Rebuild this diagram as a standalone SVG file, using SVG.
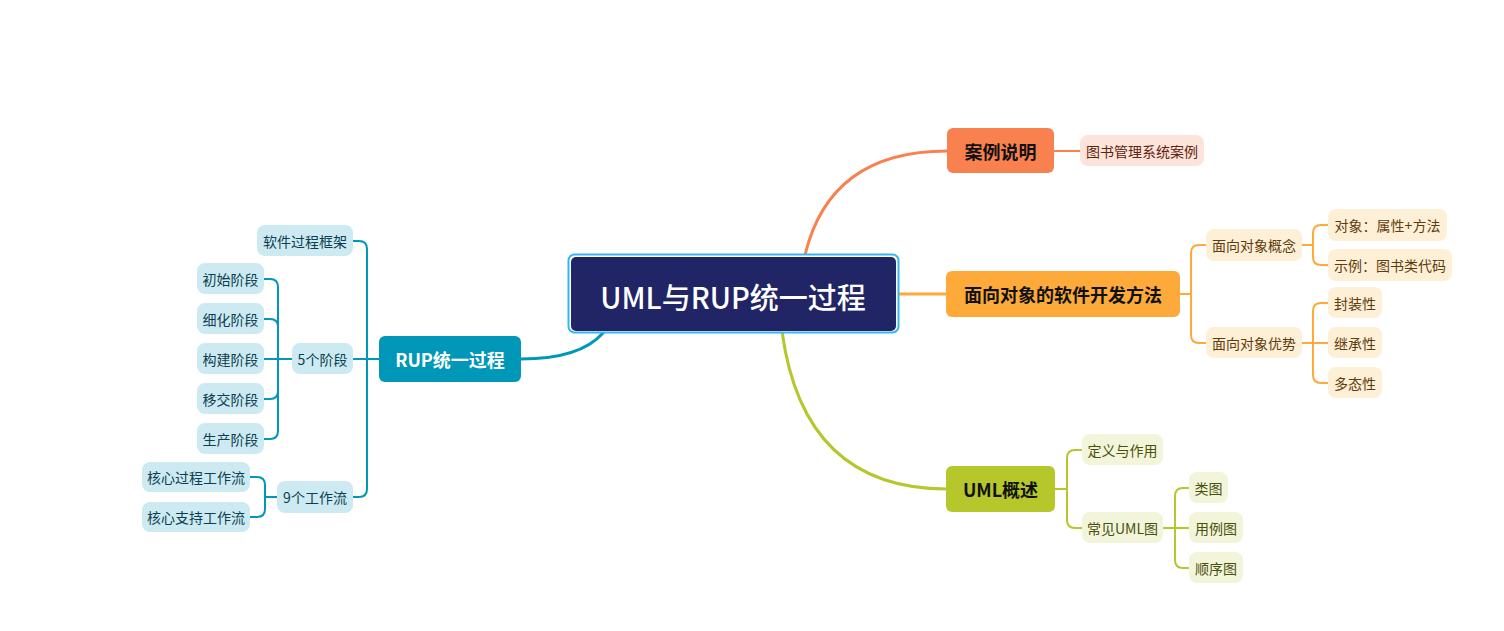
<svg xmlns="http://www.w3.org/2000/svg" width="1504" height="631" viewBox="0 0 1504 631">
<style>
text{font-family:"Noto Sans CJK SC","Noto Sans",sans-serif;text-anchor:middle;dominant-baseline:central}
.main{font-size:18px;font-weight:bold;fill:#111}
.sub{font-size:14px}
.c1 rect{fill:#FDE4DA}.c1 text{fill:#5E2410}
.c2 rect{fill:#FEEFD7}.c2 text{fill:#5E3C0C}
.c3 rect{fill:#F2F5D9}.c3 text{fill:#4A500E}
.c4 rect{fill:#CDEAF2}.c4 text{fill:#0C4050}
.l1{stroke:#F9804F}.l2{stroke:#FDAA3A}.l3{stroke:#B5C72A}.l4{stroke:#0097B8}
#connectors path{fill:none;stroke-width:2;stroke-linecap:round}
#connectors .big{stroke-width:3}
</style>
<rect width="1504" height="631" fill="#ffffff"/>
<g id="connectors">
<path class="big l1" d="M805 255 Q830 151 947 151"/>
<path class="big l2" d="M898 294 H947"/>
<path class="big l3" d="M782 331 Q803 489 947 489"/>
<path class="big l4" d="M603 333 Q580 359 521 359"/>
<path class="l1" d="M1054 151 H1080"/>
<path class="l2" d="M1180 294 H1191 M1206 245 H1199 Q1191 245 1191 253 V335 Q1191 343 1199 343 H1206"/>
<path class="l2" d="M1302 245 H1313 M1328 225 H1321 Q1313 225 1313 233 V257 Q1313 265 1321 265 H1328"/>
<path class="l2" d="M1302 343 H1328 M1328 303 H1321 Q1313 303 1313 311 V375 Q1313 383 1321 383 H1328"/>
<path class="l3" d="M1055 489 H1067 M1082 450 H1075 Q1067 450 1067 458 V520 Q1067 528 1075 528 H1082"/>
<path class="l3" d="M1163 528 H1189 M1189 488 H1183 Q1175 488 1175 496 V560 Q1175 568 1183 568 H1189"/>
<path class="l4" d="M379 359 H353 M353 241 H359 Q367 241 367 249 V489 Q367 497 359 497 H353"/>
<path class="l4" d="M292 359 H264 M264 279 H270 Q278 279 278 287 V431 Q278 439 270 439 H264 M264 319 H270 Q278 319 278 327 M264 399 H270 Q278 399 278 391"/>
<path class="l4" d="M277 497 H265 M250 477 H257 Q265 477 265 485 V509 Q265 517 257 517 H250"/>
</g>
<g id="root">
<rect x="568.5" y="254.5" width="330" height="78" rx="6" fill="#ffffff" stroke="#35B7EE" stroke-width="2"/>
<rect x="571" y="257" width="325" height="74" rx="5" fill="#212566"/>
<text x="733" y="296" font-size="29" fill="#ffffff" font-weight="500">UML与RUP统一过程</text>
</g>
<g id="n-case">
<rect x="947" y="128" width="107" height="45" rx="6" fill="#F9804F"/>
<text class="main" x="1000.5" y="151">案例说明</text>
</g>
<g id="n-case-1" class="c1"><rect x="1080" y="135" width="124" height="31" rx="8"/><text class="sub" x="1142" y="151">图书管理系统案例</text></g>
<g id="n-oo">
<rect x="946" y="271" width="234" height="46" rx="6" fill="#FDAA3A"/>
<text class="main" x="1063" y="294">面向对象的软件开发方法</text>
</g>
<g id="n-oo-1" class="c2"><rect x="1206" y="229" width="96" height="32" rx="8"/><text class="sub" x="1254" y="245">面向对象概念</text></g>
<g id="n-oo-2" class="c2"><rect x="1206" y="327" width="96" height="31" rx="8"/><text class="sub" x="1254" y="343">面向对象优势</text></g>
<g id="n-oo-1-1" class="c2"><rect x="1328" y="209" width="119" height="32" rx="8"/><text class="sub" x="1387.5" y="225">对象：属性+方法</text></g>
<g id="n-oo-1-2" class="c2"><rect x="1328" y="249" width="124" height="32" rx="8"/><text class="sub" x="1390" y="265">示例：图书类代码</text></g>
<g id="n-oo-2-1" class="c2"><rect x="1328" y="287" width="54" height="31" rx="8"/><text class="sub" x="1355" y="303">封装性</text></g>
<g id="n-oo-2-2" class="c2"><rect x="1328" y="327" width="54" height="31" rx="8"/><text class="sub" x="1355" y="343">继承性</text></g>
<g id="n-oo-2-3" class="c2"><rect x="1328" y="367" width="54" height="31" rx="8"/><text class="sub" x="1355" y="383">多态性</text></g>
<g id="n-uml">
<rect x="946" y="466" width="109" height="46" rx="6" fill="#B5C72A"/>
<text class="main" x="1000.5" y="489">UML概述</text>
</g>
<g id="n-uml-1" class="c3"><rect x="1082" y="434" width="81" height="31" rx="8"/><text class="sub" x="1122.5" y="450">定义与作用</text></g>
<g id="n-uml-2" class="c3"><rect x="1082" y="512" width="81" height="31" rx="8"/><text class="sub" x="1122.5" y="528">常见UML图</text></g>
<g id="n-uml-2-1" class="c3"><rect x="1189" y="472" width="39" height="31" rx="8"/><text class="sub" x="1208.5" y="488">类图</text></g>
<g id="n-uml-2-2" class="c3"><rect x="1189" y="512" width="54" height="31" rx="8"/><text class="sub" x="1216" y="528">用例图</text></g>
<g id="n-uml-2-3" class="c3"><rect x="1189" y="552" width="54" height="31" rx="8"/><text class="sub" x="1216" y="568">顺序图</text></g>
<g id="n-rup">
<rect x="379" y="336" width="142" height="46" rx="6" fill="#0097B8"/>
<text class="main" x="450" y="359" style="fill:#ffffff">RUP统一过程</text>
</g>
<g id="n-rup-1" class="c4"><rect x="257" y="225" width="96" height="31" rx="8"/><text class="sub" x="305" y="241">软件过程框架</text></g>
<g id="n-rup-2" class="c4"><rect x="292" y="343" width="61" height="31" rx="8"/><text class="sub" x="322.5" y="359">5个阶段</text></g>
<g id="n-rup-3" class="c4"><rect x="277" y="481" width="76" height="32" rx="8"/><text class="sub" x="315" y="497">9个工作流</text></g>
<g id="n-rup-2-1" class="c4"><rect x="197" y="263" width="67" height="31" rx="8"/><text class="sub" x="230.5" y="279">初始阶段</text></g>
<g id="n-rup-2-2" class="c4"><rect x="197" y="303" width="67" height="31" rx="8"/><text class="sub" x="230.5" y="319">细化阶段</text></g>
<g id="n-rup-2-3" class="c4"><rect x="197" y="343" width="67" height="31" rx="8"/><text class="sub" x="230.5" y="359">构建阶段</text></g>
<g id="n-rup-2-4" class="c4"><rect x="197" y="383" width="67" height="31" rx="8"/><text class="sub" x="230.5" y="399">移交阶段</text></g>
<g id="n-rup-2-5" class="c4"><rect x="197" y="423" width="67" height="31" rx="8"/><text class="sub" x="230.5" y="439">生产阶段</text></g>
<g id="n-rup-3-1" class="c4"><rect x="142" y="462" width="108" height="30" rx="8"/><text class="sub" x="196" y="477">核心过程工作流</text></g>
<g id="n-rup-3-2" class="c4"><rect x="142" y="502" width="108" height="30" rx="8"/><text class="sub" x="196" y="517">核心支持工作流</text></g>
</svg>
